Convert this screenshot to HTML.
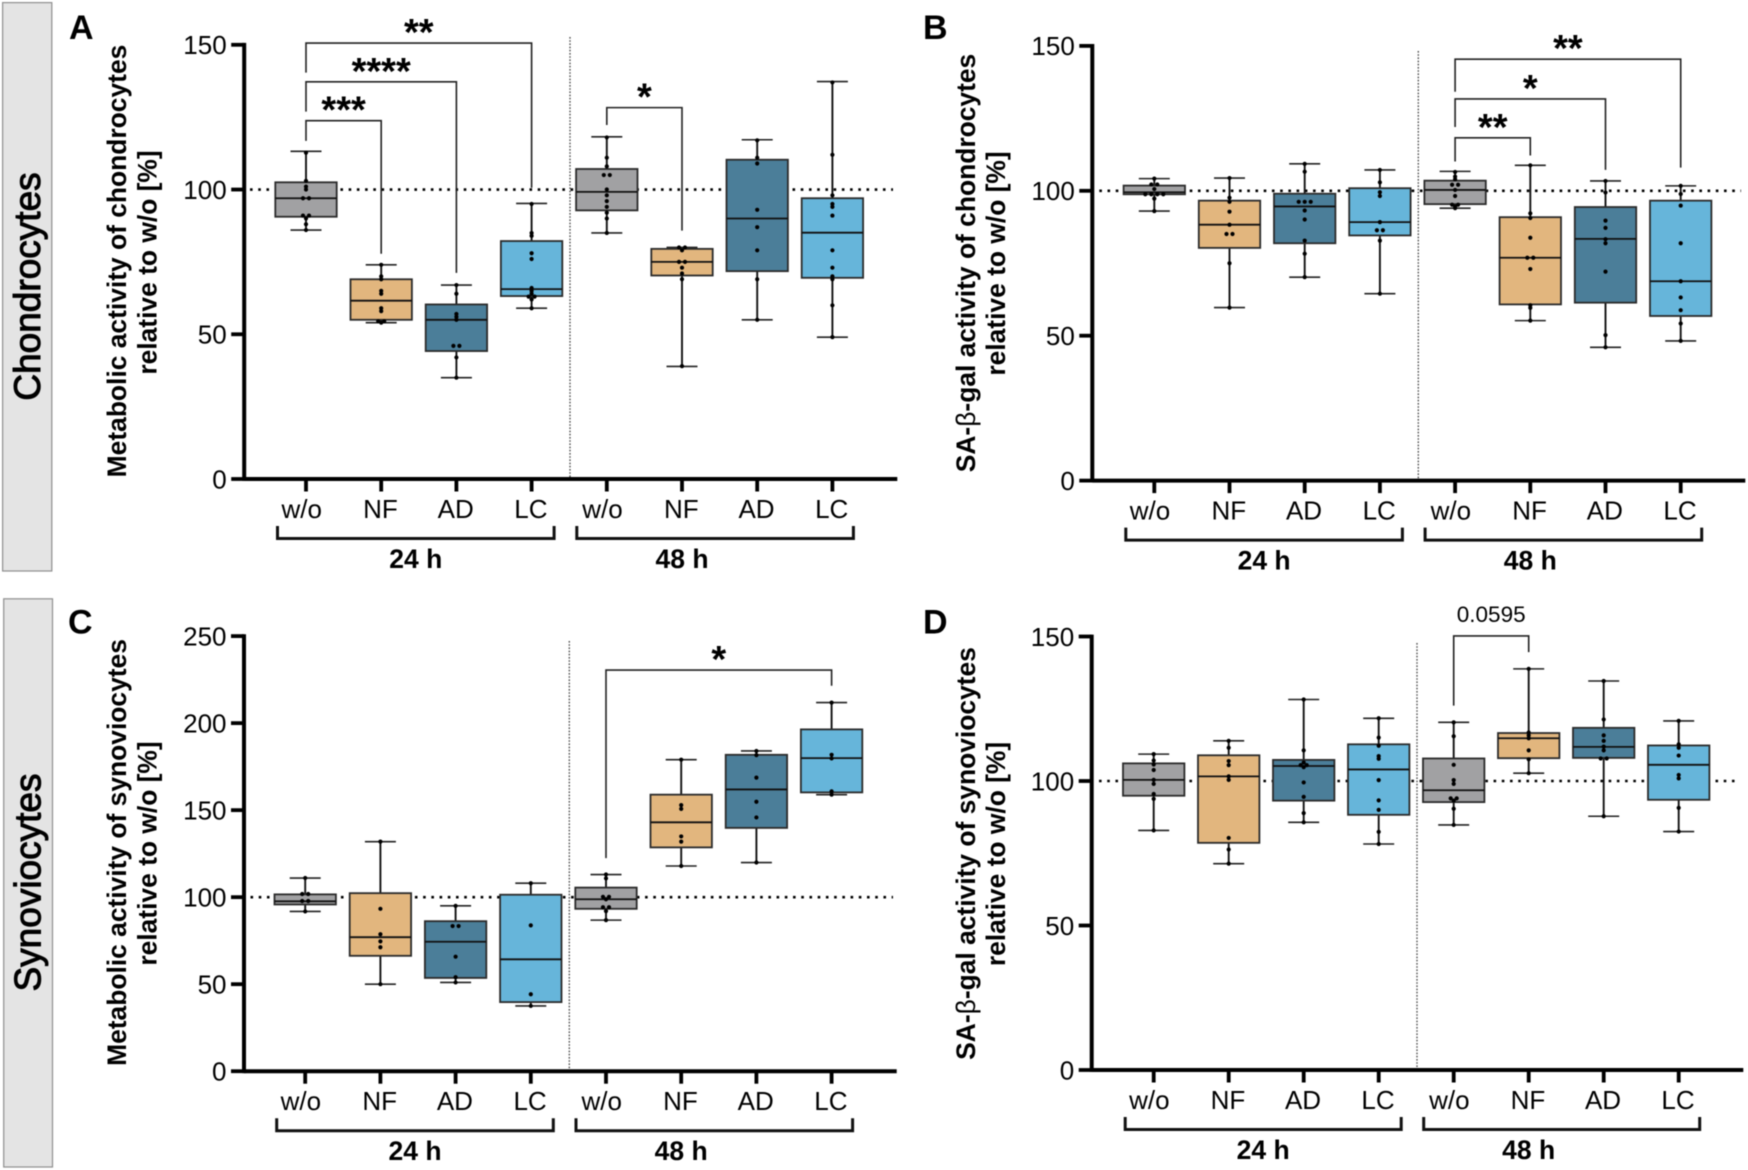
<!DOCTYPE html>
<html lang="en">
<head>
<meta charset="utf-8">
<title>Metabolic and SA-β-gal activity box plots</title>
<style>
html,body{margin:0;padding:0;background:#fff}
svg{display:block;filter:blur(0.4px)}
text{font-family:"Liberation Sans",Arial,sans-serif;fill:#000}
.title{font-size:26.4px;font-weight:bold}
.panel-letter{font-size:34px;font-weight:bold}
.side{font-size:37px;stroke:#000;stroke-width:1}
</style>
</head>
<body>
<svg id="figure" xmlns="http://www.w3.org/2000/svg" width="1748" height="1170" viewBox="0 0 1748 1170">
  <rect x="0" y="0" width="1748" height="1170" fill="#fff"/>

  <rect x="2.6" y="2.6" width="49.2" height="568.4" fill="#e4e4e4" stroke="#8f8f8f" stroke-width="1.2"/>
  <text class="side" text-anchor="middle" transform="translate(40,286.5) rotate(-90)">Chondrocytes</text>
  <rect x="3.7" y="598.8" width="48.8" height="568.2" fill="#e4e4e4" stroke="#8f8f8f" stroke-width="1.2"/>
  <text class="side" text-anchor="middle" transform="translate(40.7,882.5) rotate(-90)">Synoviocytes</text>

  <text class="panel-letter" x="69" y="39">A</text>
  <text class="panel-letter" x="923" y="39">B</text>
  <text class="panel-letter" x="68" y="633.5">C</text>
  <text class="panel-letter" x="923" y="633.5">D</text>

  <text class="title" text-anchor="middle" transform="translate(125.8,261) rotate(-90)">Metabolic activity of chondrocytes</text>
  <text class="title" text-anchor="middle" transform="translate(156.5,262.5) rotate(-90)">relative to w/o [%]</text>
  <text class="title" text-anchor="middle" transform="translate(975,263) rotate(-90)">SA-<tspan font-weight="normal">β</tspan>-gal activity of chondrocytes</text>
  <text class="title" text-anchor="middle" transform="translate(1005,263.5) rotate(-90)">relative to w/o [%]</text>
  <text class="title" text-anchor="middle" transform="translate(125.8,852.5) rotate(-90)">Metabolic activity of synoviocytes</text>
  <text class="title" text-anchor="middle" transform="translate(156.5,853.5) rotate(-90)">relative to w/o [%]</text>
  <text class="title" text-anchor="middle" transform="translate(975,853.5) rotate(-90)">SA-<tspan font-weight="normal">β</tspan>-gal activity of synoviocytes</text>
  <text class="title" text-anchor="middle" transform="translate(1005,854) rotate(-90)">relative to w/o [%]</text>
</svg>

<script>
// ---------- shared labels ----------
const categories = ['w/o', 'NF', 'AD', 'LC', 'w/o', 'NF', 'AD', 'LC'];
const timeGroups = ['24 h', '48 h'];
const yTicks150 = [0, 50, 100, 150];
const yTicks250 = [0, 50, 100, 150, 200, 250];
const referenceValue = 100;

// ---------- panel A: metabolic activity of chondrocytes ----------
const aWhiskerHigh = [113.2, 74, 67, 95.2, 118.2, 80, 117.2, 137.3];
const aQ3 = [102.5, 69, 60.3, 82.2, 107.1, 79.5, 110.3, 97];
const aMedian = [97, 61.6, 55, 65.6, 99.2, 75, 90, 85.1];
const aQ1 = [90.6, 55, 44.2, 63.2, 92.8, 70.3, 71.8, 69.5];
const aWhiskerLow = [86, 54, 35, 59, 85, 38.9, 55, 49];
const aPoints = [
  [112.7, 103, 101, 100, 97, 97, 91, 91, 90, 88, 86],
  [74, 70, 69, 65, 64, 59, 58, 54.5, 54.5, 54],
  [67, 64, 57, 56, 55, 46, 46, 42, 35],
  [95, 85, 84, 78, 76, 66, 65, 64, 63, 63, 62, 59],
  [118, 111, 108, 105, 105, 100, 98, 96, 94, 92, 90, 85],
  [80, 80, 79, 75, 75, 73, 71, 69, 39],
  [117, 111, 109, 93, 87, 79, 69, 55],
  [137, 112, 98, 95, 94, 91, 79, 73, 70, 69, 60, 49]
];
const aBracketFrom = [0, 0, 0, 4];
const aBracketTo = [3, 2, 1, 5];
const aBracketLevel = [150.6, 137.2, 123.8, 128.3];
const aBracketLeftEnd = [140.4, 126.9, 116.8, 122.3];
const aBracketRightEnd = [100.6, 71.2, 77.8, 85.8];
const aBracketLabels = ['**', '****', '***', '*'];

// ---------- panel B: SA-beta-gal activity of chondrocytes ----------
const bWhiskerHigh = [104.2, 104.4, 109.3, 107.2, 106.7, 108.8, 103.4, 101.7];
const bQ3 = [101.8, 96.6, 99, 100.9, 103.5, 90.9, 94.4, 96.6];
const bMedian = [99.5, 88.3, 94.6, 89.2, 100.3, 76.9, 83.4, 68.8];
const bQ1 = [98.8, 80.3, 81.9, 84.6, 95.4, 60.8, 61.4, 56.8];
const bWhiskerLow = [93, 59.7, 70.2, 64.5, 94, 55.2, 46, 48.2];
const bPoints = [
  [104.2, 102.2, 102.2, 100.6, 98.8, 98.8, 98.8, 98.8, 97.3, 93],
  [104.4, 97.6, 96.2, 92.8, 88.3, 85.1, 85.1, 75, 59.7],
  [109.3, 106.6, 96.2, 96.2, 96.2, 93.2, 90.1, 82.8, 78.3, 70.2],
  [107.2, 102.9, 99.5, 98.2, 89.2, 86.4, 86.4, 82.8, 64.5],
  [106.5, 104.9, 104, 102.1, 102.1, 100.3, 98.2, 95.2, 95.2, 94.6, 94],
  [108.8, 92.2, 90.6, 83.8, 76.9, 76.9, 73, 60.5, 59.6, 55.2],
  [103.4, 99.4, 89.7, 87.2, 83.3, 81.9, 72.1, 50.2, 46],
  [101.7, 98.9, 94.9, 81.9, 68.8, 63.2, 58.8, 54.2, 48.2]
];
const bBracketFrom = [4, 4, 4];
const bBracketTo = [7, 6, 5];
const bBracketLevel = [145.4, 131.7, 118.3];
const bBracketLeftEnd = [134.2, 122, 110.1];
const bBracketRightEnd = [108, 107.2, 112.2];
const bBracketLabels = ['**', '*', '**'];

// ---------- panel C: metabolic activity of synoviocytes ----------
const cWhiskerHigh = [111, 131.9, 95, 108, 113, 179, 184, 211.8];
const cQ3 = [101.6, 102.3, 86.2, 101.4, 105.5, 158.9, 181.8, 196.4];
const cMedian = [97.6, 77, 74.4, 64.3, 98.8, 143, 161.9, 179.9];
const cQ1 = [95.8, 66.3, 53.6, 39.7, 93.3, 128.6, 139.8, 160.2];
const cWhiskerLow = [91.8, 50, 51, 37.5, 86.8, 117.9, 119.9, 158.9];
const cPoints = [
  [111, 101.8, 101.8, 97.8, 97.8, 91.8],
  [131.9, 93.3, 78.7, 74.6, 71.2, 50],
  [95, 83.4, 83.4, 65.8, 54, 51],
  [108, 83.8, 44.2, 37.5],
  [113, 110.8, 100.2, 100.2, 98.8, 94.2, 94.2, 92, 86.8],
  [179, 152.9, 150.7, 134.9, 131.9, 117.9],
  [184, 181.6, 168.7, 154.8, 145.8, 119.9],
  [211.8, 181.8, 179.7, 160.8, 158.9]
];
const cBracketFrom = [4];
const cBracketTo = [7];
const cBracketLevel = [230.5];
const cBracketLeftEnd = [122.4];
const cBracketRightEnd = [221.5];
const cBracketLabels = ['*'];

// ---------- panel D: SA-beta-gal activity of synoviocytes ----------
const dWhiskerHigh = [109.3, 113.9, 128.2, 121.7, 120.3, 138.8, 134.6, 120.8];
const dQ3 = [106.1, 108.9, 107.3, 112.7, 107.8, 116.6, 118.4, 112.3];
const dMedian = [100.4, 101.6, 105.2, 104, 96.8, 114.8, 111.8, 105.6];
const dQ1 = [94.9, 78.6, 93.2, 88.3, 92.7, 107.9, 108, 93.5];
const dWhiskerLow = [82.9, 71.4, 85.7, 78.2, 84.8, 102.7, 87.8, 82.5];
const dPoints = [
  [109.3, 107.1, 105.7, 103.8, 100.4, 99, 95.5, 93.8, 82.9],
  [113.9, 111.5, 106.9, 105.5, 101.6, 100.4, 80.3, 76.3, 71.4],
  [128.2, 110.6, 106.4, 105.5, 105.5, 104.8, 99.5, 94.5, 88.9, 85.7],
  [121.7, 115, 112.2, 108.6, 107.7, 100.3, 93.3, 90, 82.4, 78.2],
  [120.3, 115.5, 105.6, 100.3, 99, 94, 94, 93.2, 90.4, 84.8],
  [138.8, 116.8, 115.8, 114.8, 110.6, 107.5, 102.7],
  [134.6, 121.3, 115.8, 113.9, 111.9, 110.6, 107.8, 107.8, 87.8],
  [120.8, 112.7, 111.5, 108.8, 102.1, 100.9, 90.7, 82.5]
];
const dBracketFrom = [4];
const dBracketTo = [5];
const dBracketLevel = [150.2];
const dBracketLeftEnd = [126.1];
const dBracketRightEnd = [144.6];
const dBracketLabels = ['0.0595'];

// ---------- styling ----------
const fillColors = ['#a1a1a3', '#e2b67e', '#4b7e99', '#66b5da'];
const SVG_NS = 'http://www.w3.org/2000/svg';
const figure = document.getElementById('figure');

function mk(tag, attrs, parent) {
  const el = document.createElementNS(SVG_NS, tag);
  for (const k in attrs) el.setAttribute(k, attrs[k]);
  parent.appendChild(el);
  return el;
}

function spreadOffsets(values, gap) {
  return values.map(function (v, i) {
    const same = [];
    values.forEach(function (w, j) { if (w === v) same.push(j); });
    return (same.indexOf(i) - (same.length - 1) / 2) * gap;
  });
}

function drawPanel(p, d) {
  const yScale = function (v) { return p.zeroY - v * (p.zeroY - p.topY) / p.maxV; };
  const xScale = function (i) { return p.firstTick + i * p.step; };
  const g = mk('g', {}, figure);
  
  

  // reference line at 100 %
  const refLine = mk('line', {x1: p.dotFrom, x2: p.dotTo, y1: yScale(referenceValue), y2: yScale(referenceValue), stroke: '#000', 'stroke-width': 2.6, 'stroke-dasharray': '2.6 5.62'}, g);
  
  

  // 24 h / 48 h separator
  const sep = mk('line', {x1: p.sepX, x2: p.sepX, y1: p.sepTop, y2: p.zeroY, stroke: '#444', 'stroke-width': 1.3, 'stroke-dasharray': '1.6 1.6'}, g);
  
  

  // boxes
  categories.forEach(function (cat, i) {
    const cx = xScale(i);
    const suffix = p.id + '-' + i;
    const group = mk('g', {}, g);
    
    

    const whiskerUp = mk('line', {x1: cx, x2: cx, y1: yScale(d.q3[i]), y2: yScale(d.high[i]), stroke: '#111', 'stroke-width': 1.9}, group);
    
    

    const whiskerDown = mk('line', {x1: cx, x2: cx, y1: yScale(d.q1[i]), y2: yScale(d.low[i]), stroke: '#111', 'stroke-width': 1.9}, group);
    
    

    const capUp = mk('line', {x1: cx - 15.5, x2: cx + 15.5, y1: yScale(d.high[i]), y2: yScale(d.high[i]), stroke: '#222', 'stroke-width': 1.6}, group);
    
    

    const capDown = mk('line', {x1: cx - 15.5, x2: cx + 15.5, y1: yScale(d.low[i]), y2: yScale(d.low[i]), stroke: '#222', 'stroke-width': 1.6}, group);
    
    

    const box = mk('rect', {x: cx - 30.7, y: yScale(d.q3[i]), width: 61.4, height: yScale(d.q1[i]) - yScale(d.q3[i]), fill: fillColors[i % 4], stroke: '#2b2b2b', 'stroke-width': 1.8}, group);
    
    

    const med = mk('line', {x1: cx - 30.7, x2: cx + 30.7, y1: yScale(d.median[i]), y2: yScale(d.median[i]), stroke: '#111', 'stroke-width': 1.8}, group);
    
    

    const offs = spreadOffsets(d.points[i], 6);
    d.points[i].forEach(function (v, k) {
      const dot = mk('circle', {cx: cx + offs[k], cy: yScale(v), r: 2.1, fill: '#000'}, group);
      
      
    });
  });

  // significance brackets
  d.brFrom.forEach(function (from, b) {
    const x1 = xScale(from);
    const x2 = xScale(d.brTo[b]);
    const yTop = yScale(d.brLevel[b]);
    const br = mk('path', {d: 'M' + x1 + ' ' + yScale(d.brLeft[b]) + 'V' + yTop + 'H' + x2 + 'V' + yScale(d.brRight[b]), fill: 'none', stroke: '#222', 'stroke-width': 1.6}, g);
    
    

    const isNumber = /\d/.test(d.brLabels[b]);
    const lab = mk('text', {x: (x1 + x2) / 2, y: isNumber ? yTop - 14 : yTop + 2, 'text-anchor': 'middle', 'font-size': isNumber ? 22.5 : 38, 'font-weight': isNumber ? 'normal' : 'bold'}, g);
    lab.textContent = d.brLabels[b];
    
    
  });

  // axes
  const yAxis = mk('line', {x1: p.axisX, x2: p.axisX, y1: p.topY - 1.9, y2: p.zeroY + 1.9, stroke: '#000', 'stroke-width': 4}, g);
  
  

  const xAxis = mk('line', {x1: p.axisX, x2: p.axisEnd, y1: p.zeroY, y2: p.zeroY, stroke: '#000', 'stroke-width': 4}, g);
  
  

  p.ticks.forEach(function (t) {
    const tick = mk('line', {x1: p.axisX - 13, x2: p.axisX, y1: yScale(t), y2: yScale(t), stroke: '#000', 'stroke-width': 3.8}, g);
    
    

    const lab = mk('text', {x: p.axisX - 17.5, y: yScale(t) + 9.3, 'text-anchor': 'end', 'font-size': 26}, g);
    lab.textContent = String(t);
    
    
  });

  categories.forEach(function (cat, i) {
    const cx = xScale(i);
    const tick = mk('line', {x1: cx, x2: cx, y1: p.zeroY, y2: p.zeroY + 12.5, stroke: '#000', 'stroke-width': 3.8}, g);
    
    

    const lab = mk('text', {x: cx - (cat === 'w/o' ? 4.3 : 0.7), y: p.zeroY + 39, 'text-anchor': 'middle', 'font-size': 26}, g);
    lab.textContent = cat;
    
    
  });

  // time group brackets below the axis
  const left24 = xScale(0) - 28.5;
  const right24 = xScale(3) + 22.5;
  const left48 = xScale(4) - 30;
  const right48 = xScale(7) + 21;
  const yA = p.zeroY + 47;
  const yB = p.zeroY + 59.5;

  const group24 = mk('path', {d: 'M' + left24 + ' ' + yA + 'V' + yB + 'H' + right24 + 'V' + yA, fill: 'none', stroke: '#111', 'stroke-width': 3}, g);
  
  

  const group48 = mk('path', {d: 'M' + left48 + ' ' + yA + 'V' + yB + 'H' + right48 + 'V' + yA, fill: 'none', stroke: '#111', 'stroke-width': 3}, g);
  
  

  const label24 = mk('text', {x: (left24 + right24) / 2, y: p.zeroY + 89, 'text-anchor': 'middle', 'font-size': 26.5, 'font-weight': 'bold'}, g);
  label24.textContent = timeGroups[0];
  
  

  const label48 = mk('text', {x: xScale(5), y: p.zeroY + 89, 'text-anchor': 'middle', 'font-size': 26.5, 'font-weight': 'bold'}, g);
  label48.textContent = timeGroups[1];
  
  
}

drawPanel(
  {id: 'a', axisX: 244.2, zeroY: 479, topY: 44.8, maxV: 150, ticks: yTicks150, firstTick: 306, step: 75.2, axisEnd: 897.3, dotFrom: 250, dotTo: 893, sepX: 570, sepTop: 37},
  {high: aWhiskerHigh, q3: aQ3, median: aMedian, q1: aQ1, low: aWhiskerLow, points: aPoints, brFrom: aBracketFrom, brTo: aBracketTo, brLevel: aBracketLevel, brLeft: aBracketLeftEnd, brRight: aBracketRightEnd, brLabels: aBracketLabels}
);
drawPanel(
  {id: 'b', axisX: 1092.3, zeroY: 480.6, topY: 45.9, maxV: 150, ticks: yTicks150, firstTick: 1154.3, step: 75.2, axisEnd: 1745.3, dotFrom: 1099.3, dotTo: 1741, sepX: 1418.3, sepTop: 51},
  {high: bWhiskerHigh, q3: bQ3, median: bMedian, q1: bQ1, low: bWhiskerLow, points: bPoints, brFrom: bBracketFrom, brTo: bBracketTo, brLevel: bBracketLevel, brLeft: bBracketLeftEnd, brRight: bBracketRightEnd, brLabels: bBracketLabels}
);
drawPanel(
  {id: 'c', axisX: 244, zeroY: 1071.2, topY: 636.1, maxV: 250, ticks: yTicks250, firstTick: 305.2, step: 75.2, axisEnd: 896.7, dotFrom: 250.5, dotTo: 893, sepX: 569.3, sepTop: 641},
  {high: cWhiskerHigh, q3: cQ3, median: cMedian, q1: cQ1, low: cWhiskerLow, points: cPoints, brFrom: cBracketFrom, brTo: cBracketTo, brLevel: cBracketLevel, brLeft: cBracketLeftEnd, brRight: cBracketRightEnd, brLabels: cBracketLabels}
);
drawPanel(
  {id: 'd', axisX: 1091.7, zeroY: 1070, topY: 636.5, maxV: 150, ticks: yTicks150, firstTick: 1153.7, step: 75, axisEnd: 1743.3, dotFrom: 1099, dotTo: 1739, sepX: 1417, sepTop: 643},
  {high: dWhiskerHigh, q3: dQ3, median: dMedian, q1: dQ1, low: dWhiskerLow, points: dPoints, brFrom: dBracketFrom, brTo: dBracketTo, brLevel: dBracketLevel, brLeft: dBracketLeftEnd, brRight: dBracketRightEnd, brLabels: dBracketLabels}
);
</script>
</body>
</html>
